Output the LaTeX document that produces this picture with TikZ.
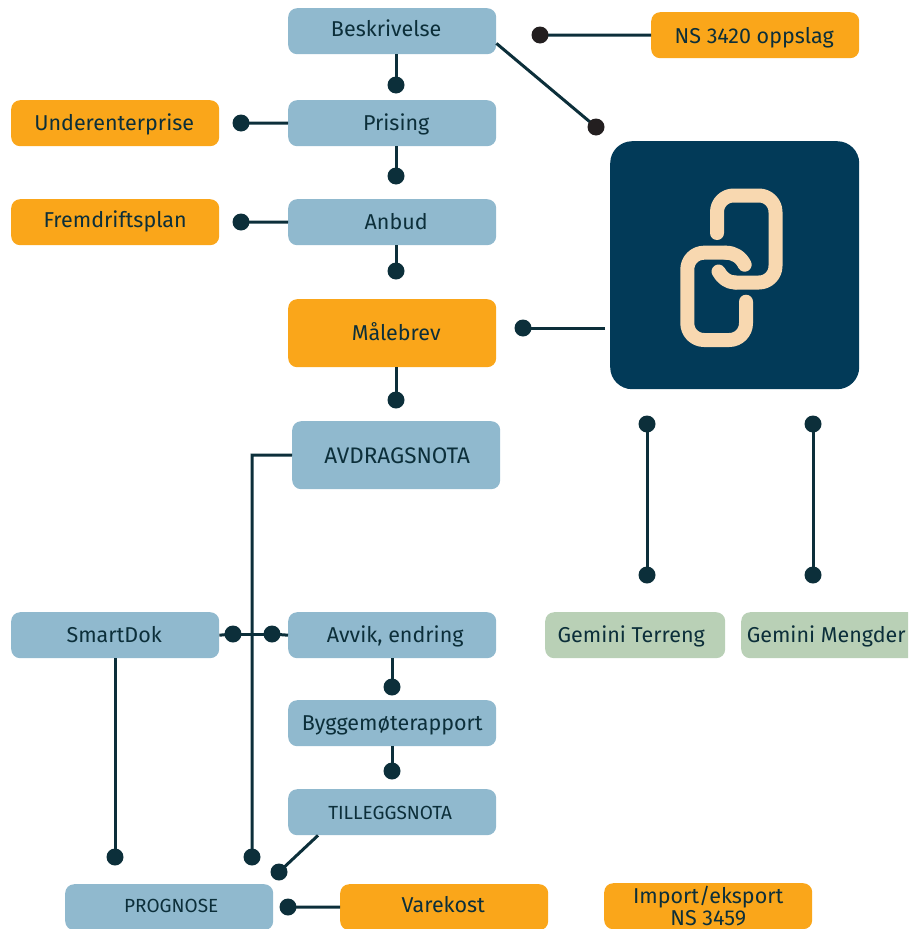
\documentclass[tikz,border=0pt]{standalone}
\usepackage{fontspec}
\setmainfont{Fira Sans}
\definecolor{bluebox}{HTML}{90B9CE}
\definecolor{orangebox}{HTML}{FAA61A}
\definecolor{greenbox}{HTML}{B9D0B6}
\definecolor{inkdark}{HTML}{0C2F3A}
\definecolor{navybox}{HTML}{023A58}
\definecolor{peach}{HTML}{F8D8B0}
\definecolor{dotblack}{HTML}{231F20}
\newcommand{\tsh}[1]{\hspace*{#1pt}}
\tikzset{
  x=1pt,y=-1pt,
  boxbase/.style={rounded corners=9pt,inner sep=0pt,align=center,text=inkdark,font=\fontsize{21.5}{22}\selectfont,anchor=north west,minimum height=46pt},
  oneline/.style={text height=16pt,text depth=2pt},
  higher/.style={text height=14pt,text depth=3pt},
  lower/.style={text height=18pt,text depth=1pt},
  bluenode/.style={boxbase,oneline,fill=bluebox,minimum width=208pt},
  orangenode/.style={boxbase,oneline,fill=orangebox,minimum width=208pt},
  greennode/.style={boxbase,oneline,fill=greenbox},
  importnode/.style={boxbase,fill=orangebox,minimum width=208pt,font=\fontsize{21.5}{22}\selectfont},
  tall/.style={minimum height=68pt},
  smalltext/.style={font=\fontsize{19}{20}\selectfont},
  pin/.style={circle,fill=inkdark,inner sep=0pt,minimum size=17pt},
  blackpin/.style={pin,fill=dotblack},
  wire/.style={draw=inkdark,line width=3pt},
  linkstroke/.style={draw=peach,line width=14pt,line cap=round,line join=round}
}
\begin{document}
\begin{tikzpicture}
\useasboundingbox (0,0) rectangle (908,929);
\clip (0,0) rectangle (908,929);
% boxes
\node[bluenode,higher] (beskrivelse) at (288,8) {\tsh{-12}Beskrivelse};
\node[bluenode] (prising) at (288,100) {\tsh{8}Prising};
\node[bluenode] (anbud) at (288,199) {\tsh{8}Anbud};
\node[orangenode,tall] (malebrev) at (288,299) {\tsh{8}Målebrev};
\node[bluenode,tall,lower,font=\fontsize{22.5}{23}\selectfont] (avdrag) at (292,421) {\tsh{2}AVDRAGSNOTA};
\node[bluenode] (avvik) at (288,612) {\tsh{6}Avvik, endring};
\node[bluenode] (bygge) at (288,700) {Byggemøterapport};
\node[bluenode,smalltext] (tillegg) at (288,789) {\tsh{-4}TILLEGGSNOTA};
\node[orangenode] (under) at (11,100) {\tsh{-2}Underenterprise};
\node[orangenode,higher] (frem) at (11,199) {Fremdriftsplan};
\node[bluenode] (smartdok) at (11,612) {\tsh{-2}SmartDok};
\node[bluenode,smalltext,higher] (prognose) at (65,884) {\tsh{4}PROGNOSE};
\node[orangenode,higher] (varekost) at (340,884) {\tsh{-2}Varekost};
\node[importnode] (import) at (604,883) {Import/eksport\\NS 3459};
\node[orangenode,lower] (ns) at (651,12) {\tsh{-2}NS 3420 oppslag};
\node[greennode,minimum width=180pt] (terreng) at (545,612) {\tsh{-8}Gemini Terreng};
\node[greennode,minimum width=180pt] (mengder) at (741,612) {\tsh{-10}Gemini Mengder};
\node[anchor=north west,fill=navybox,rounded corners=22pt,minimum width=249pt,minimum height=248pt,inner sep=0pt] (navy) at (610,141) {};
% link icon
\draw[linkstroke,rounded corners=16.5pt] (717,233) -- (717,195.5) -- (775.5,195.5) -- (775.5,282.5) -- (735,282.5);
\draw[linkstroke] (735,282.5) .. controls (728,282.5) and (722,278) .. (718.5,271.5);
\draw[linkstroke] (744.7,264.7) .. controls (741,257) and (734,252.7) .. (726,252.7);
\draw[linkstroke,rounded corners=16.7pt] (726,252.7) -- (687.3,252.7) -- (687.3,340) -- (746,340) -- (746,301.7);
% anchors
\coordinate (navyend) at (605,328);
\coordinate (avdragbend) at (252,455);
\coordinate (q1) at (396,85);
\coordinate (q2) at (540,35);
\coordinate (q3) at (596,127);
\coordinate (q4) at (241,123);
\coordinate (q5) at (396,176);
\coordinate (q6) at (241,222);
\coordinate (q7) at (396,271);
\coordinate (q8) at (396,400);
\coordinate (q9) at (523,328);
\coordinate (q10) at (252,857);
\coordinate (q11) at (233,634);
\coordinate (q12) at (272,634);
\coordinate (q13) at (115,857);
\coordinate (q14) at (392,687);
\coordinate (q15) at (392,771);
\coordinate (q16) at (279,872);
\coordinate (q17) at (288,907);
\coordinate (q18) at (647,424);
\coordinate (q19) at (647,575);
\coordinate (q20) at (813,424);
\coordinate (q21) at (813,575);
% connectors
\draw[wire] (q1 |- beskrivelse.south) -- (q1);
\draw[wire] (ns.west) -- (q2);
\draw[wire] ([yshift=11pt]beskrivelse.south east) -- (q3);
\draw[wire] (prising.west) -- (q4);
\draw[wire] (q5 |- prising.south) -- (q5);
\draw[wire] (anbud.west) -- (q6);
\draw[wire] (q7 |- anbud.south) -- (q7);
\draw[wire] (q8 |- malebrev.south) -- (q8);
\draw[wire] (navyend) -- (q9);
\draw[wire] (avdrag.west) -- (avdragbend) -- (q10);
\draw[wire] (q11) -- (q12);
\draw[wire] (avvik.west) -- (q12);
\draw[wire] (smartdok.east) -- (q11);
\draw[wire] (smartdok.south -| q13) -- (q13);
\draw[wire] (avvik.south -| q14) -- (q14);
\draw[wire] (bygge.south -| q15) -- (q15);
\draw[wire] ([xshift=30pt]tillegg.south west) -- (q16);
\draw[wire] (varekost.west) -- (q17);
\draw[wire] (q18) -- (q19);
\draw[wire] (q20) -- (q21);
% pins
\node[pin] at (q1) {};
\node[blackpin] at (q2) {};
\node[blackpin] at (q3) {};
\node[pin] at (q4) {};
\node[pin] at (q5) {};
\node[pin] at (q6) {};
\node[pin] at (q7) {};
\node[pin] at (q8) {};
\node[pin] at (q9) {};
\node[pin] at (q10) {};
\node[pin] at (q11) {};
\node[pin] at (q12) {};
\node[pin] at (q13) {};
\node[pin] at (q14) {};
\node[pin] at (q15) {};
\node[pin] at (q16) {};
\node[pin] at (q17) {};
\node[pin] at (q18) {};
\node[pin] at (q19) {};
\node[pin] at (q20) {};
\node[pin] at (q21) {};
\end{tikzpicture}
\end{document}
